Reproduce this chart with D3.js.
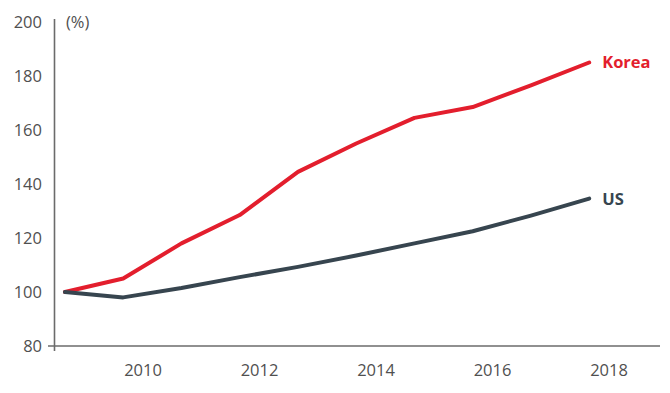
<!DOCTYPE html>
<html><head><meta charset="utf-8">
<script src="https://cdn.jsdelivr.net/npm/d3@7"></script>
<style>
html,body{margin:0;padding:0;background:#fff;}
svg{display:block;font-family:"Open Sans",sans-serif;}
</style></head>
<body><svg id="c" width="670" height="393"></svg>
<script>
const years = [2009, 2010, 2011, 2012, 2013, 2014, 2015, 2016, 2017, 2018];
const korea = [100, 105, 118, 128.5, 144.5, 155, 164.5, 168.5, 176.5, 185];
const us = [100, 98, 101.5, 105.5, 109.3, 113.5, 118, 122.5, 128.3, 134.6];
const xTicks = [2010, 2012, 2014, 2016, 2018];
const yTicks = [80, 100, 120, 140, 160, 180, 200];
const seriesNames = ["Korea", "US"];
const colors = ["#e31e2d", "#37454f"];

const svg = d3.select("#c");
const x = d3.scaleLinear().domain([2010, 2018]).range([143, 609]);
const dataShift = 0.34;
const y = d3.scaleLinear().domain([80, 200]).range([346, 22]);
const axisColor = "#6b6b6b";
const textColor = "#505050";

// y axis line
svg.append("line").attr("x1", 54.5).attr("x2", 54.5)
  .attr("y1", y(200) - 3).attr("y2", y(80) + 5)
  .attr("stroke", axisColor).attr("stroke-width", 1.6);
// x axis line
svg.append("line").attr("x1", 48).attr("x2", 660)
  .attr("y1", y(80)).attr("y2", y(80))
  .attr("stroke", axisColor).attr("stroke-width", 1.6);

// y tick labels
svg.append("g").selectAll("text").data(yTicks).join("text")
  .attr("x", 42).attr("y", d => y(d)).attr("dy", "0.36em")
  .attr("text-anchor", "end").attr("font-size", 16.5)
  .attr("fill", textColor).text(d => d);

svg.append("text").attr("x", 66).attr("y", y(200)).attr("dy", "0.36em")
  .attr("font-size", 16.5).attr("fill", textColor).text("(%)");

// x tick labels
svg.append("g").selectAll("text").data(xTicks).join("text")
  .attr("x", d => x(d)).attr("y", 376)
  .attr("text-anchor", "middle").attr("font-size", 16.5)
  .attr("fill", textColor).text(d => d);

const line = d3.line().x((d, i) => x(years[i] - dataShift)).y(d => y(d));
[korea, us].forEach((s, k) => {
  svg.append("path").datum(s).attr("d", line)
    .attr("fill", "none").attr("stroke", colors[k]).attr("stroke-width", 4)
    .attr("stroke-linejoin", "round").attr("stroke-linecap", "round");
  svg.append("text").attr("x", x(years[years.length - 1] - dataShift) + 13)
    .attr("y", y(s[s.length - 1])).attr("dy", "0.36em")
    .attr("font-size", 16.5).attr("font-weight", "bold")
    .attr("fill", colors[k]).text(seriesNames[k]);
});
</script></body></html>
